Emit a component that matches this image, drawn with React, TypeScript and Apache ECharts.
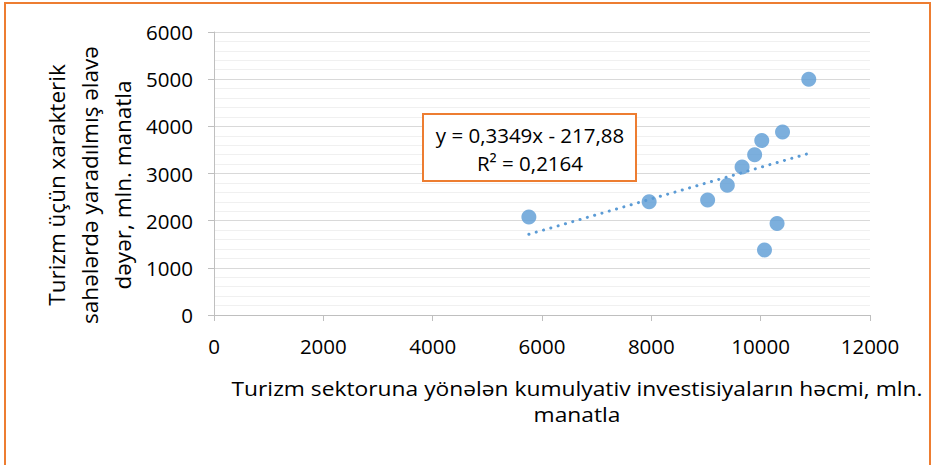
import React, { useEffect, useRef } from "react";
import * as echarts from "echarts";

// Data
const investments = [5760, 7960, 9030, 9390, 9660, 9890, 10020, 10400, 10880, 10300, 10070];
const valueAdded = [2080, 2400, 2440, 2750, 3140, 3400, 3700, 3880, 5000, 1940, 1380];

// Trendline coefficients as printed in the chart
const slope = 0.3349;
const intercept = -217.88;
const equationLines = ["y = 0,3349x - 217,88", "R² = 0,2164"];

const xAxisRange = [0, 12000];
const xInterval = 2000;
const yAxisRange = [0, 6000];
const yInterval = 1000;

const xTitleLines = [
  "Turizm sektoruna yönələn kumulyativ investisiyaların həcmi, mln.",
  "manatla",
];
const yTitleLines = [
  "Turizm üçün xarakterik",
  "sahələrdə yaradılmış əlavə",
  "dəyər, mln. manatla",
];

const FONT = "'Open Sans', 'Noto Sans', sans-serif";
const ORANGE = "#ED7D31";
const BLUE = "#5B9BD5";

export default function App() {
  const ref = useRef<HTMLDivElement>(null);

  useEffect(() => {
    if (!ref.current) return;
    const chart = echarts.init(ref.current, undefined, { renderer: "svg" });
    const points = investments.map((x, i) => [x, valueAdded[i]]);
    const xmin = Math.min(...investments);
    const xmax = Math.max(...investments);
    const trend = [
      [xmin, slope * xmin + intercept],
      [xmax, slope * xmax + intercept],
    ];

    chart.setOption({
      animation: false,
      backgroundColor: "#fff",
      textStyle: { fontFamily: FONT },
      grid: { left: 214, right: 66, top: 32, bottom: 150, containLabel: false },
      xAxis: {
        type: "value",
        min: xAxisRange[0],
        max: xAxisRange[1],
        interval: xInterval,
        axisLine: { show: true, onZero: false, lineStyle: { color: "#BFBFBF", width: 1 } },
        axisTick: { show: true, length: 6, lineStyle: { color: "#BFBFBF" } },
        axisLabel: {
          color: "#000",
          fontSize: 20.5,
          fontFamily: FONT,
          margin: 20,
          formatter: (v: number) => String(v),
        },
        splitLine: { show: false },
      },
      yAxis: {
        type: "value",
        min: yAxisRange[0],
        max: yAxisRange[1],
        interval: yInterval,
        axisLine: { show: true, lineStyle: { color: "#BFBFBF", width: 1 } },
        axisTick: { show: true, length: 6, lineStyle: { color: "#BFBFBF" } },
        axisLabel: {
          color: "#000",
          fontSize: 20.5,
          fontFamily: FONT,
          margin: 21,
          formatter: (v: number) => String(v),
        },
        splitLine: { show: true, lineStyle: { color: "#D9D9D9", width: 1 } },
        minorTick: { show: false, splitNumber: 5 },
        minorSplitLine: { show: true, lineStyle: { color: "#F0F0F0", width: 1 } },
      },
      series: [
        {
          type: "scatter",
          data: points,
          symbol: "circle",
          symbolSize: 15,
          itemStyle: { color: BLUE },
          z: 2,
        },
        {
          type: "line",
          data: trend,
          symbol: "none",
          lineStyle: { color: BLUE, width: 3, type: [0.1, 7.5], cap: "round" },
          z: 3,
        },
      ],
      graphic: [
        {
          type: "rect",
          shape: { x: 5, y: 3, width: 925, height: 500 },
          style: { fill: "none", stroke: ORANGE, lineWidth: 2 },
          silent: true,
          z: 10,
        },
        {
          type: "rect",
          shape: { x: 423, y: 114, width: 213, height: 67 },
          style: { fill: "#fff", stroke: ORANGE, lineWidth: 2 },
          z: 10,
        },
        ...equationLines.map((t, i) => ({
          type: "text",
          x: 530,
          y: 135 + i * 28,
          style: {
            text: t,
            fontSize: 20.5,
            fontFamily: FONT,
            fill: "#000",
            textAlign: "center",
            textVerticalAlign: "middle",
          },
          z: 11,
        })),
        ...xTitleLines.map((t, i) => ({
          type: "text",
          x: 577,
          y: 388 + i * 26,
          scaleX: 1.14,
          style: {
            text: t,
            fontSize: 20,
            fontFamily: FONT,
            fill: "#000",
            textAlign: "center",
            textVerticalAlign: "middle",
          },
          z: 11,
        })),
        ...yTitleLines.map((t, i) => ({
          type: "text",
          x: 56 + i * 33,
          y: 185,
          rotation: Math.PI / 2,
          style: {
            text: t,
            fontSize: 22.5,
            fontFamily: FONT,
            fill: "#000",
            textAlign: "center",
            textVerticalAlign: "middle",
          },
          z: 11,
        })),
      ],
    });
    return () => chart.dispose();
  }, []);

  return (
    <div
      ref={ref}
      style={{ position: "fixed", left: 0, top: 0, width: 936, height: 465 }}
    />
  );
}
